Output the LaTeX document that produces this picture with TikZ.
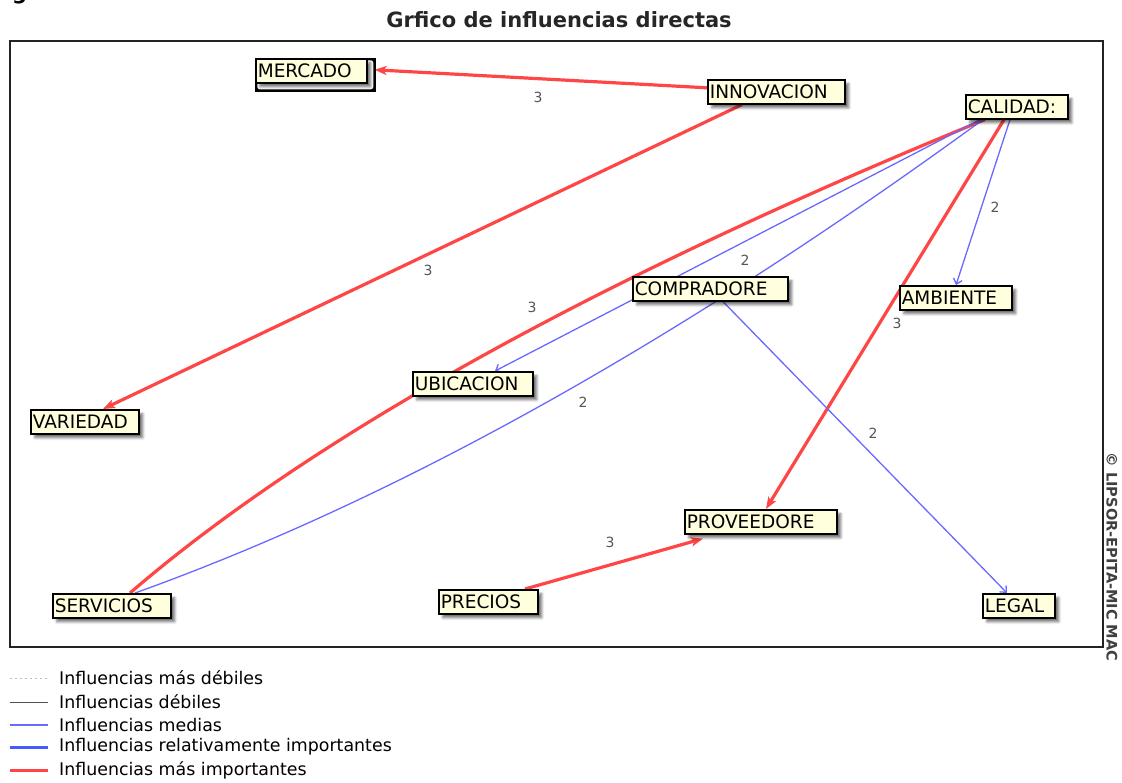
\documentclass[tikz,border=0pt]{standalone}
\usepackage{fontspec}
\setmainfont{DejaVu Sans}
\usetikzlibrary{arrows.meta,shadows.blur}

\definecolor{boxfill}{RGB}{255,255,222}
\definecolor{strongred}{RGB}{255,70,70}
\definecolor{midblue}{RGB}{105,105,255}
\definecolor{relblue}{RGB}{70,90,255}
\definecolor{weakgray}{RGB}{80,80,80}
\definecolor{faintgray}{RGB}{190,190,190}
\definecolor{lblgray}{RGB}{85,85,85}
\definecolor{framegray}{RGB}{35,35,35}

\pgfdeclarelayer{background}
\pgfdeclarelayer{edges}
\pgfsetlayers{background,edges,main}

\tikzset{
  varbox/.style={draw=black, line width=1.6pt, fill=boxfill, anchor=north west,
    inner xsep=2pt, inner ysep=5.5pt, text height=13pt, text depth=0pt,
    align=left, font=\fontsize{18.5}{20}\selectfont,
    blur shadow={shadow xshift=4pt, shadow yshift=-4pt,
                 shadow blur radius=2.5pt, shadow opacity=55}},
  strong/.style={draw=strongred, line width=3.2pt,
    -{Stealth[length=12pt,width=9pt,inset=3pt]}},
  strongcurve/.style={draw=strongred, line width=3.2pt},
  medium/.style={draw=midblue, line width=1.3pt,
    -{Straight Barb[length=5pt,width=9pt]}},
  mediumcurve/.style={draw=midblue, line width=1.3pt},
  wlabel/.style={font=\fontsize{14}{16}\selectfont, text=lblgray, inner sep=0pt},
  legtext/.style={anchor=west, inner sep=0pt, font=\fontsize{17.4}{19}\selectfont},
}

\begin{document}
\begin{tikzpicture}[x=1pt,y=-1pt]
\useasboundingbox (0,0) rectangle (1122,782);
\begin{pgfonlayer}{background}
\fill[white] (0,0) rectangle (1122,782);
\end{pgfonlayer}

% title and the cut-off line above it
\node[anchor=base west, inner sep=0pt, font=\bfseries\fontsize{21}{24}\selectfont] (topg) at (12,-1) {g};
\node[anchor=base, inner sep=0pt, text=black!85, font=\bfseries\fontsize{21}{24}\selectfont] (title) at (559,27) {Grfico de influencias directas};

% plot frame
\draw[framegray, line width=1.5pt] (10,41) rectangle (1103,647);

% copyright
\node[rotate=-90, inner sep=0pt, text=black!75, font=\bfseries\fontsize{14.5}{16}\selectfont] (copy) at (1112,557) {© LIPSOR-EPITA-MIC MAC};

% variables
\node[varbox, text width=107pt] (merc)  at (255,58)  {MERCADO};
\node[varbox, text width=133pt] (innov) at (707,79)  {INNOVACION};
\node[varbox, text width=98pt]  (cal)   at (965,94)  {CALIDAD:};
\node[varbox, text width=151pt] (comp)  at (632,276) {COMPRADORE};
\node[varbox, text width=108pt] (amb)   at (899,285) {AMBIENTE};
\node[varbox, text width=116pt] (ubic)  at (412,371) {UBICACION};
\node[varbox, text width=104pt] (var)   at (30,409)  {VARIEDAD};
\node[varbox, text width=148pt] (prov)  at (684,509) {PROVEEDORE};
\node[varbox, text width=95pt]  (prec)  at (438,589) {PRECIOS};
\node[varbox, text width=114pt] (serv)  at (52,593)  {SERVICIOS};
\node[varbox, text width=68pt]  (legal) at (982,593) {LEGAL};

% influences
\begin{pgfonlayer}{edges}
\draw[strong] ([yshift=4pt]innov.west) -- ([xshift=7pt,yshift=1pt]merc.east);
\draw[strong] ([xshift=35pt]innov.south west) -- ([xshift=73pt]var.north west);
\draw[strongcurve] ([xshift=20pt]cal.south west) .. controls (595,279) and (310,438) .. ([xshift=78pt]serv.north west);
\draw[mediumcurve] ([xshift=18pt]cal.south west) .. controls (682,339) and (400,498) .. ([xshift=83pt]serv.north west);
\draw[medium] ([xshift=15pt]cal.south west) -- ([xshift=83pt]ubic.north west);
\draw[medium] ([xshift=45pt]cal.south west) -- ([xshift=57pt]amb.north west);
\draw[strong] ([xshift=39pt]cal.south west) -- ([xshift=82pt]prov.north west);
\draw[medium] ([xshift=91pt]comp.south west) -- ([xshift=25pt]legal.north west);
\draw[strong] ([xshift=87pt]prec.north west) -- ([xshift=19pt,yshift=-4pt]prov.south west);
\end{pgfonlayer}

% influence weights
\node[wlabel] (w1) at (538,97)  {3};
\node[wlabel] (w2) at (428,270) {3};
\node[wlabel] (w3) at (532,307) {3};
\node[wlabel] (w4) at (745,260) {2};
\node[wlabel] (w5) at (995,207) {2};
\node[wlabel] (w6) at (897,323) {3};
\node[wlabel] (w7) at (583,402) {2};
\node[wlabel] (w8) at (873,433) {2};
\node[wlabel] (w9) at (610,542) {3};

% legend
\draw[faintgray, line width=1pt, dash pattern=on 2pt off 3pt] (10,678) -- (48,678);
\draw[weakgray, line width=1pt] (10,702) -- (48,702);
\draw[midblue, line width=1.3pt] (10,725) -- (48,725);
\draw[relblue, line width=3pt] (10,747) -- (48,747);
\draw[strongred, line width=3pt] (10,770) -- (48,770);
\node[legtext] (l1) at (59,678) {Influencias más débiles};
\node[legtext] (l2) at (59,702) {Influencias débiles};
\node[legtext] (l3) at (59,725) {Influencias medias};
\node[legtext] (l4) at (59,747) {Influencias relativamente importantes};
\node[legtext] (l5) at (59,770) {Influencias más importantes};
\end{tikzpicture}
\end{document}
